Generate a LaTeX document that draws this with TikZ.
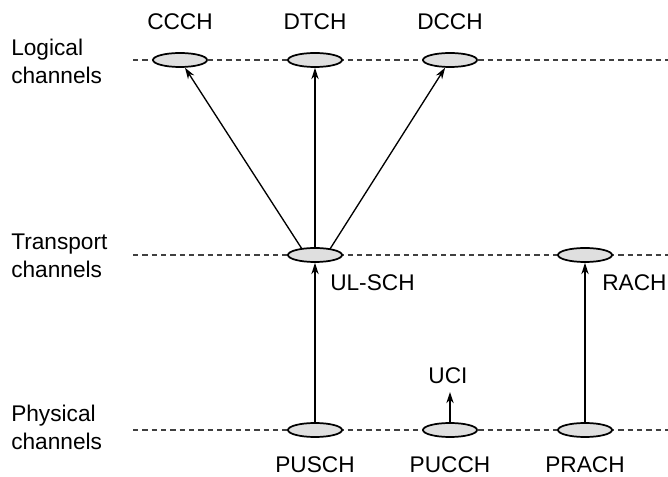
\documentclass[tikz,border=0pt]{standalone}
\usepackage{fontspec}
\setmainfont{Liberation Sans}
\usetikzlibrary{arrows.meta,calc,shapes.geometric}
\begin{document}
\begin{tikzpicture}[x=0.75pt,y=-0.75pt,
  txt/.style={font=\fontsize{17}{21}\selectfont, inner sep=0pt},
  layer/.style={txt, align=left, anchor=west},
  chan/.style={ellipse, draw=black, line width=1.3pt, fill=gray!25,
               minimum width=40.5pt, minimum height=10.5pt, inner sep=0pt},
  level/.style={line width=0.8pt, dash pattern=on 4pt off 3pt, black!75},
  flow/.style={line width=1pt, -{Stealth[length=8.5pt,width=5.5pt]}}]
  \useasboundingbox (0,0) rectangle (668,477);

  % layer lines
  \draw[level] (133,60) -- (668,60);
  \draw[level] (133,255) -- (668,255);
  \draw[level] (133,430) -- (668,430);

  % layer names
  \node[layer] (lg) at (11,61) {Logical\\channels};
  \node[layer] (tr) at (11,256) {Transport\\channels};
  \node[layer] (ph) at (11,427) {Physical\\channels};

  % logical channels
  \node[chan] (ccch) at (180,60) {};
  \node[chan] (dtch) at (315,60) {};
  \node[chan] (dcch) at (450,60) {};
  \node[txt] (ccchl) at (180,22) {CCCH};
  \node[txt] (dtchl) at (315,22) {DTCH};
  \node[txt] (dcchl) at (450,22) {DCCH};

  % transport channels
  \node[chan] (ul) at (315,255) {};
  \node[chan] (rach) at (585,255) {};
  \node[txt, anchor=west] (ull) at (330,283) {UL-SCH};
  \node[txt, anchor=west] (rachl) at (602,283) {RACH};

  % physical channels
  \node[chan] (pusch) at (315,430) {};
  \node[chan] (pucch) at (450,430) {};
  \node[chan] (prach) at (585,430) {};
  \node[txt] (puschl) at (315,465) {PUSCH};
  \node[txt] (pucchl) at (450,465) {PUCCH};
  \node[txt] (prachl) at (585,465) {PRACH};
  \node[txt] (uci) at (448,376) {UCI};
  \coordinate (ucitip) at (450,392);

  % mappings
  \coordinate (ulw) at ($(ul.center)+(-13,-6)$);
  \coordinate (ule) at ($(ul.center)+(15,-6)$);
  \draw[flow] (ulw) -- (ccch);
  \draw[flow] (ul) -- (dtch);
  \draw[flow] (ule) -- (dcch);
  \draw[flow] (pusch) -- (ul);
  \draw[flow] (prach) -- (rach);
  \draw[flow] (pucch) -- (ucitip);
\end{tikzpicture}
\end{document}
